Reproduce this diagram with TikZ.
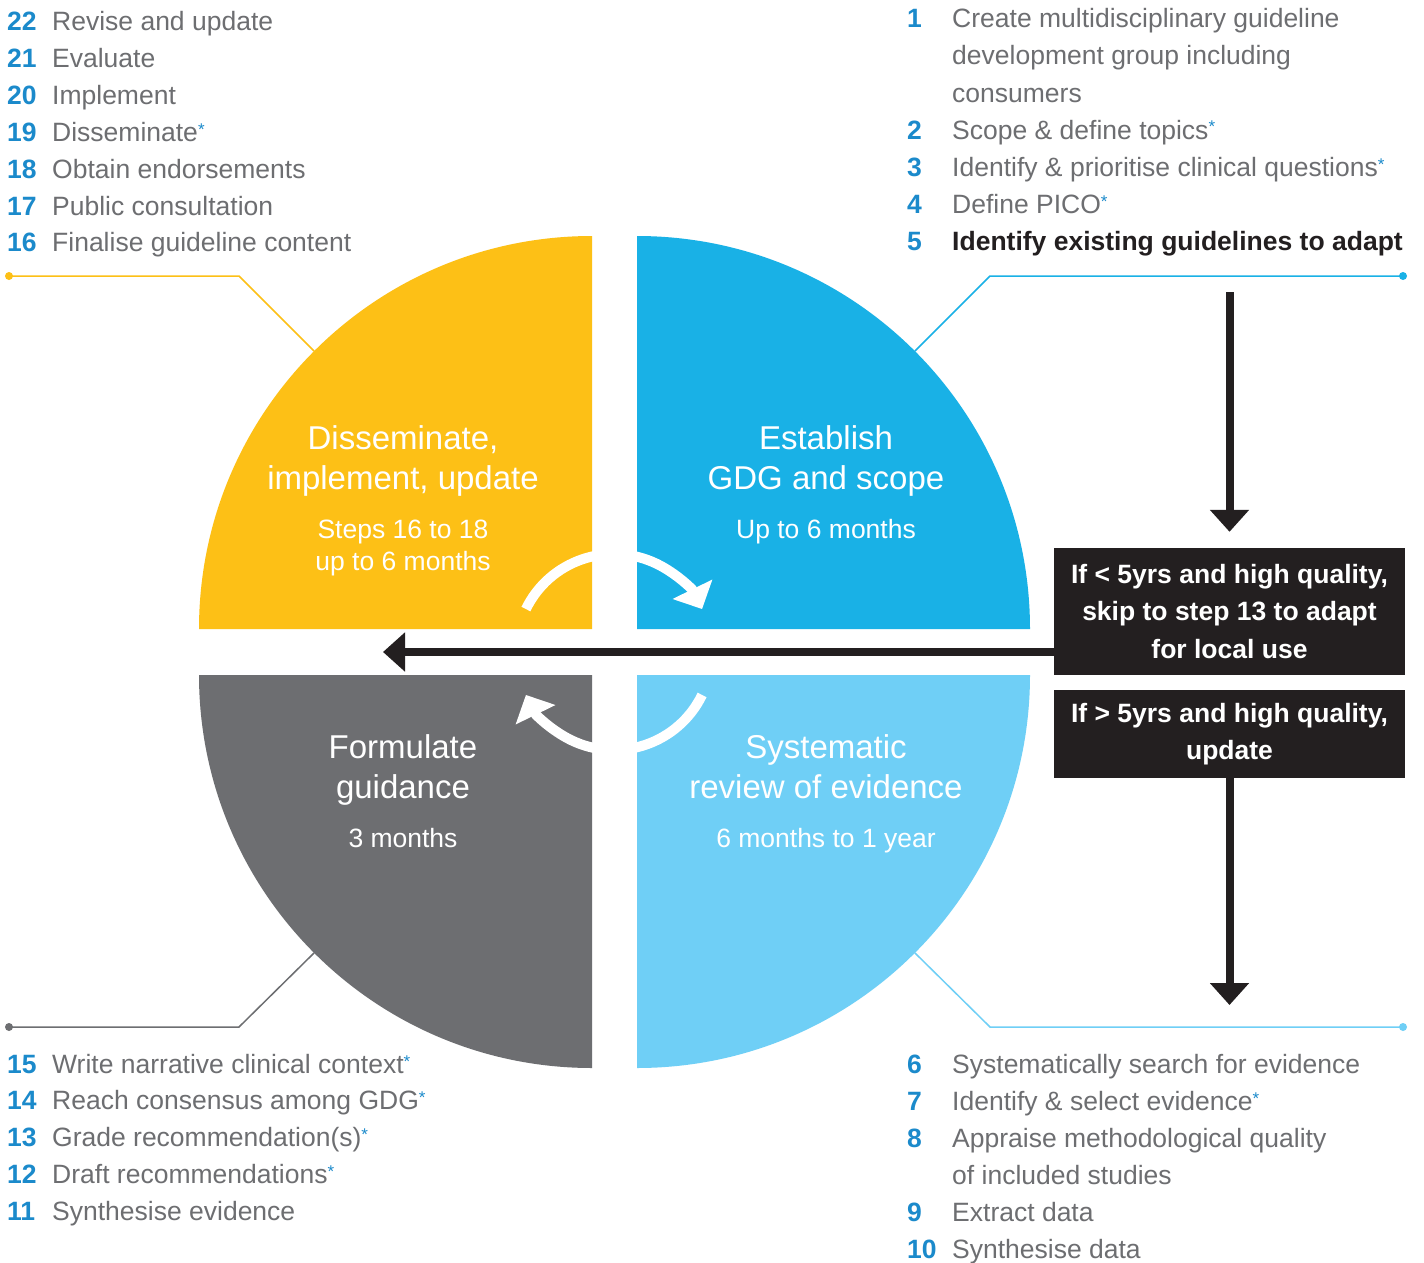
\documentclass[tikz,border=0pt]{standalone}
\usepackage{fontspec}
\setmainfont{Liberation Sans}
\usepackage{xcolor}
\usepackage{tikz}
\usetikzlibrary{positioning,calc,arrows.meta}

\definecolor{qyellow}{HTML}{FDC016}
\definecolor{qblue}{HTML}{19B1E6}
\definecolor{qgrey}{HTML}{6D6E71}
\definecolor{qlight}{HTML}{6FCFF6}
\definecolor{stepblue}{HTML}{1B8ACB}
\definecolor{steptext}{HTML}{6D6E71}
\definecolor{boxdark}{HTML}{231F20}

\newcommand{\starmark}{{\color{stepblue}\raisebox{6pt}{\fontsize{17}{17}\selectfont *}}}

\begin{document}
\begin{tikzpicture}[x=1pt,y=-1pt,
    num/.style={anchor=base west, text=stepblue, inner sep=0pt, font=\fontsize{26.5}{30}\selectfont\bfseries},
    item/.style={anchor=base west, text=steptext, inner sep=0pt, font=\fontsize{26.5}{30}\selectfont},
    qtitle/.style={anchor=base, text=white, inner sep=0pt, font=\fontsize{33}{40}\selectfont},
    qsub/.style={anchor=base, text=white, inner sep=0pt, font=\fontsize{26.5}{30}\selectfont},
    decision/.style={fill=boxdark, text=white, inner sep=0pt, minimum width=351pt, align=center, font=\fontsize{26.5}{37.5}\selectfont\bfseries},
    bigarrow/.style={draw=boxdark, line width=8pt, -{Triangle[width=38pt,length=22pt]}},
    turn/.style={draw=white, line width=10pt, -{Triangle[width=43pt,length=22pt]}},
    leader/.style={line width=1.5pt},
]
    \fill[white] (0,0) rectangle (1424,1263);
    \useasboundingbox (0,0) rectangle (1424,1263);

    % quarter discs
    \coordinate (cTL) at (592,629);
    \coordinate (cTR) at (637,629);
    \coordinate (cBL) at (592,675);
    \coordinate (cBR) at (637,675);
    \coordinate (hub) at (614,652);
    \fill[qyellow] (cTL) -- ++(-393,0) arc[start angle=180, end angle=270, radius=393] -- cycle;
    \fill[qblue] (cTR) -- ++(0,-393) arc[start angle=270, end angle=360, radius=393] -- cycle;
    \fill[qlight] (cBR) -- ++(393,0) arc[start angle=0, end angle=90, radius=393] -- cycle;
    \fill[qgrey] (cBL) -- ++(0,393) arc[start angle=90, end angle=180, radius=393] -- cycle;

    \draw[turn] ($(hub)+(-154:98)$) arc[start angle=-154, end angle=-26, radius=98];
    \draw[turn] ($(hub)+(26:98)$) arc[start angle=26, end angle=154, radius=98];

    \node[qtitle] (dis1) at (403,449) {Disseminate,};
    \node[qtitle] (dis2) at (403,489) {implement, update};
    \node[qsub] (dis3) at (403,538) {Steps 16 to 18};
    \node[qsub] (dis4) at (403,570) {up to 6 months};
    \node[qtitle] (est1) at (826,449) {Establish};
    \node[qtitle] (est2) at (826,489) {GDG and scope};
    \node[qsub] (est3) at (826,538) {Up to 6 months};
    \node[qtitle] (form1) at (403,758) {Formulate};
    \node[qtitle] (form2) at (403,798) {guidance};
    \node[qsub] (form3) at (403,847) {3 months};
    \node[qtitle] (sys1) at (826,758) {Systematic};
    \node[qtitle] (sys2) at (826,798) {review of evidence};
    \node[qsub] (sys3) at (826,847) {6 months to 1 year};

    % leader lines
    \coordinate (dotTL) at (9,276);
    \coordinate (dotTR) at (1403,276);
    \coordinate (dotBL) at (9,1027);
    \coordinate (dotBR) at (1403,1027);
    \draw[qyellow,leader] (dotTL) -- (239,276) -- ($(cTL)+(225:393)$);
    \draw[qblue,leader] (dotTR) -- (990,276) -- ($(cTR)+(315:393)$);
    \draw[qgrey,leader] (dotBL) -- (239,1027) -- ($(cBL)+(135:393)$);
    \draw[qlight,leader] (dotBR) -- (990,1027) -- ($(cBR)+(45:393)$);
    \fill[qyellow] (dotTL) circle (4);
    \fill[qblue] (dotTR) circle (4);
    \fill[qgrey] (dotBL) circle (4);
    \fill[qlight] (dotBR) circle (4);

    % decision boxes and arrows
    \node[decision, minimum height=127pt] (skip) at (1229.5,611.5) {If < 5yrs and high quality,\\skip to step 13 to adapt\\for local use};
    \node[decision, minimum height=88pt] (upd) at (1229.5,734) {If > 5yrs and high quality,\\update};
    \coordinate (topstart) at (1230,292);
    \coordinate (leftend) at (383,652);
    \coordinate (botend) at (1230,1005);
    \draw[bigarrow] (skip.north |- topstart) -- ([yshift=16pt]skip.north);
    \draw[bigarrow] (skip.west |- hub) -- (leftend);
    \draw[bigarrow] (upd.south) -- (upd.south |- botend);

    % step lists
    \foreach \n/\t [count=\i from 0] in {22/Revise and update, 21/Evaluate, 20/Implement,
        19/Disseminate\starmark, 18/Obtain endorsements, 17/Public consultation,
        16/Finalise guideline content}
    {
        \node[num] (n\n) at (7,{31+36.8*\i}) {\n};
        \node[item] (t\n) at (52,{31+36.8*\i}) {\t};
    }
    \foreach \n/\t [count=\i from 0] in {15/Write narrative clinical context\starmark,
        14/Reach consensus among GDG\starmark, 13/Grade recommendation(s)\starmark,
        12/Draft recommendations\starmark, 11/Synthesise evidence}
    {
        \node[num] (n\n) at (7,{1073+36.8*\i}) {\n};
        \node[item] (t\n) at (52,{1073+36.8*\i}) {\t};
    }

    \node[num] (n1) at (907,28) {1};
    \node[item] (t1) at (952,28) {Create multidisciplinary guideline};
    \node[item] (t1b) at (952,65) {development group including};
    \node[item] (t1c) at (952,102) {consumers};
    \node[num] (n2) at (907,139) {2};
    \node[item] (t2) at (952,139) {Scope \& define topics\starmark};
    \node[num] (n3) at (907,176) {3};
    \node[item] (t3) at (952,176) {Identify \& prioritise clinical questions\starmark};
    \node[num] (n4) at (907,213) {4};
    \node[item] (t4) at (952,213) {Define PICO\starmark};
    \node[num] (n5) at (907,250) {5};
    \node[item, text=boxdark, font=\fontsize{26.5}{30}\selectfont\bfseries] (t5) at (952,250) {Identify existing guidelines to adapt};

    \node[num] (n6) at (907,1073) {6};
    \node[item] (t6) at (952,1073) {Systematically search for evidence};
    \node[num] (n7) at (907,1110) {7};
    \node[item] (t7) at (952,1110) {Identify \& select evidence\starmark};
    \node[num] (n8) at (907,1147) {8};
    \node[item] (t8) at (952,1147) {Appraise methodological quality};
    \node[item] (t8b) at (952,1184) {of included studies};
    \node[num] (n9) at (907,1221) {9};
    \node[item] (t9) at (952,1221) {Extract data};
    \node[num] (n10) at (907,1258) {10};
    \node[item] (t10) at (952,1258) {Synthesise data};
\end{tikzpicture}
\end{document}
